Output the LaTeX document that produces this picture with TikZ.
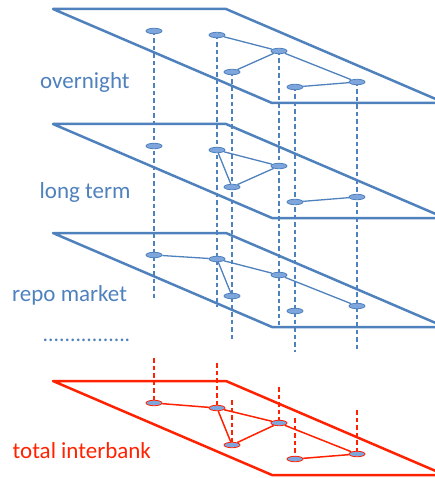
\documentclass[tikz,border=0pt]{standalone}
\usepackage{fontspec}
\setmainfont{Carlito}
\usetikzlibrary{shapes.geometric}
\definecolor{pblue}{HTML}{4F81BD}
\definecolor{nfill}{HTML}{7EA6DC}
\definecolor{pred}{HTML}{FF2200}
\pgfdeclarelayer{bg}
\pgfsetlayers{bg,main}
\begin{document}
\begin{tikzpicture}[x=1pt,y=-1pt,
  plane/.style={line width=2.5pt, line join=round},
  bnode/.style={ellipse, draw=pblue, fill=nfill, line width=0.8pt, minimum width=16pt, minimum height=5.5pt, inner sep=0pt},
  rnode/.style={bnode, draw=pred},
  bedge/.style={pblue, line width=1.3pt},
  redge/.style={pred, line width=1.5pt},
  bdash/.style={pblue, line width=1.2pt, dash pattern=on 4.5pt off 3pt},
  rdash/.style={pred, line width=1.2pt, dash pattern=on 4.5pt off 3pt},
  lbl/.style={anchor=base west, inner sep=0pt, font=\fontsize{23}{27}\selectfont}]
\useasboundingbox (0,0) rectangle (435,478);

% nodes of the three blue layers
\foreach \p/\o in {1/0,2/115,3/224} {
  \node[bnode] (n\p a) at (154,{31+\o}) {};
  \node[bnode] (n\p b) at (217,{35+\o}) {};
  \node[bnode] (n\p c) at (279,{51+\o}) {};
  \node[bnode] (n\p d) at (232,{72+\o}) {};
  \node[bnode] (n\p e) at (295,{87+\o}) {};
  \node[bnode] (n\p f) at (357,{82+\o}) {};
}
% nodes of the red layer
\node[rnode] (n4a) at (154,403) {};
\node[rnode] (n4b) at (217,408) {};
\node[rnode] (n4c) at (279,423) {};
\node[rnode] (n4d) at (232,445) {};
\node[rnode] (n4e) at (295,459) {};
\node[rnode] (n4f) at (357,454) {};

% ends of the dashed column lines
\coordinate (ea) at (154,298);
\coordinate (eb) at (217,307);
\coordinate (ec) at (279,325);
\coordinate (ed) at (232,342);
\coordinate (ee) at (295,352);
\coordinate (ef) at (357,350);
\coordinate (ra) at (154,358);
\coordinate (rb) at (217,363);
\coordinate (rc) at (279,387);
\coordinate (rd) at (232,400);
\coordinate (re) at (295,418);
\coordinate (rf) at (357,410);

\begin{pgfonlayer}{bg}
  \begin{scope}
    \clip (0,0) rectangle (435,478);
    \foreach \o in {0,115,224}
      \draw[plane, pblue] (53,{9+\o}) -- (226,{9+\o}) -- (445,{103+\o}) -- (272,{103+\o}) -- cycle;
    \draw[plane, pred] (53,381) -- (226,381) -- (445,475) -- (272,475) -- cycle;
  \end{scope}
  % dashed columns
  \foreach \k in {a,b,c,d,e,f} {
    \draw[bdash] (n1\k.center) -- (e\k);
    \draw[rdash] (r\k) -- (n4\k.center);
  }
  % links
  \draw[bedge] (n1b) -- (n1c);
  \draw[bedge] (n1c) -- (n1d);
  \draw[bedge] (n1c) -- (n1f);
  \draw[bedge] (n1e) -- (n1f);
  \draw[bedge] (n2b) -- (n2c);
  \draw[bedge] (n2b) -- (n2d);
  \draw[bedge] (n2d) -- (n2c);
  \draw[bedge] (n2e) -- (n2f);
  \draw[bedge] (n3a) -- (n3b);
  \draw[bedge] (n3b) -- (n3c);
  \draw[bedge] (n3c) -- (n3f);
  \draw[bedge] (n3b) -- (n3d);
  \draw[redge] (n4a) -- (n4b);
  \draw[redge] (n4b) -- (n4c);
  \draw[redge] (n4b) -- (n4d);
  \draw[redge] (n4d) -- (n4c);
  \draw[redge] (n4c) -- (n4f);
  \draw[redge] (n4e) -- (n4f);
\end{pgfonlayer}

% labels
\node[lbl, text=pblue] (lo) at (40,88.3) {overnight};
\node[lbl, text=pblue] (ll) at (39.5,198.3) {long term};
\node[lbl, text=pblue] (lr) at (12,301.7) {repo market};
\node[lbl, text=pblue, font=\fontsize{21.7}{26}\selectfont] (ld) at (42.5,341.5) {................};
\node[lbl, text=pred] (lt) at (12.5,458.3) {total interbank};
\end{tikzpicture}
\end{document}
